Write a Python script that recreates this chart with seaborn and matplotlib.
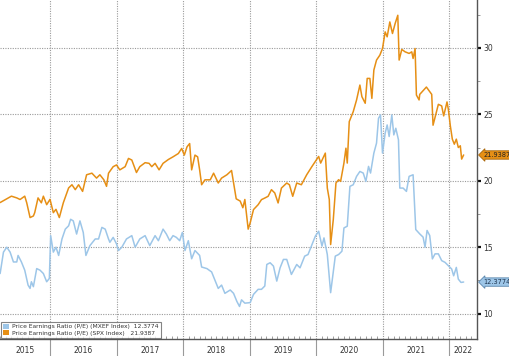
import numpy as np
import pandas as pd
import matplotlib
matplotlib.use("Agg")
import matplotlib.pyplot as plt
import matplotlib.transforms as mtransforms
from matplotlib.patches import Patch
import seaborn as sns

# ---------------- data (decimal years, P/E values) ----------------
spx_t = [2015.25, 2015.35, 2015.42, 2015.50, 2015.55, 2015.62, 2015.65, 2015.70, 2015.75, 2015.77,
         2015.82, 2015.87, 2015.90, 2015.95, 2016.00, 2016.05, 2016.09, 2016.14, 2016.20, 2016.28,
         2016.33, 2016.38, 2016.43, 2016.49, 2016.55, 2016.63, 2016.70, 2016.75, 2016.81, 2016.85,
         2016.88, 2016.95, 2017.00, 2017.05, 2017.13, 2017.18, 2017.23, 2017.30, 2017.35, 2017.43,
         2017.49, 2017.53, 2017.58, 2017.64, 2017.70, 2017.78, 2017.85, 2017.93, 2017.98, 2018.02,
         2018.06, 2018.10, 2018.13, 2018.18, 2018.22, 2018.25, 2018.28, 2018.33, 2018.41, 2018.46,
         2018.53, 2018.58, 2018.66, 2018.73, 2018.80, 2018.86, 2018.90, 2018.93, 2018.98,
         2019.01, 2019.06, 2019.13, 2019.18, 2019.23, 2019.28, 2019.33, 2019.38, 2019.43, 2019.48,
         2019.56, 2019.60, 2019.65, 2019.71, 2019.78, 2019.86, 2019.94, 2019.99, 2020.04, 2020.07,
         2020.14, 2020.17, 2020.20, 2020.22, 2020.26, 2020.30, 2020.34, 2020.37, 2020.42, 2020.45,
         2020.47, 2020.50, 2020.56, 2020.61, 2020.66, 2020.69, 2020.74, 2020.77, 2020.81, 2020.84,
         2020.87, 2020.91, 2020.96, 2021.00, 2021.04, 2021.07, 2021.11, 2021.15, 2021.19, 2021.23,
         2021.25, 2021.29, 2021.34, 2021.40, 2021.44, 2021.46, 2021.49, 2021.51, 2021.55,
         2021.56, 2021.66, 2021.74, 2021.76, 2021.84, 2021.89, 2021.92, 2021.97, 2021.99, 2022.02,
         2022.05, 2022.08, 2022.11, 2022.14, 2022.17, 2022.19, 2022.22]
spx_pe = [18.36, 18.64, 18.84, 18.71, 18.59, 18.84, 18.34, 17.23, 17.35, 17.60,
          18.71, 18.34, 18.84, 18.20, 18.60, 17.60, 17.85, 17.23, 18.34, 19.46,
          19.70, 19.33, 19.70, 19.20, 20.45, 20.57, 20.20, 20.45, 20.07, 19.58,
          20.57, 21.06, 21.19, 20.82, 21.06, 21.68, 21.56, 20.62, 21.06, 21.36,
          21.31, 21.06, 21.31, 20.82, 21.31, 21.60, 21.80, 22.05, 22.43, 21.93,
          22.55, 22.80, 20.82, 21.93, 21.80, 20.82, 19.70, 20.07, 20.07, 20.57,
          19.83, 20.20, 20.45, 20.77, 18.64, 18.47, 17.97, 18.59, 16.36,
          16.83, 17.83, 18.20, 18.58, 18.70, 18.83, 19.33, 19.08, 18.33, 19.45,
          19.83, 19.70, 18.83, 19.83, 19.70, 20.45, 21.08, 21.45, 21.83, 21.33,
          22.08, 19.45, 18.58, 15.20, 17.08, 19.83, 20.08, 19.95, 21.33, 22.45,
          21.33, 24.45, 25.20, 26.08, 27.20, 26.33, 25.83, 27.70, 27.70, 26.20,
          28.33, 29.08, 29.45, 29.95, 31.20, 30.83, 31.95, 31.08, 31.83, 32.45,
          29.08, 29.88, 29.70, 29.58, 29.70, 29.20, 29.95, 26.45, 26.08,
          26.50, 27.05, 26.50, 24.18, 25.75, 25.63, 24.88, 25.93, 25.38, 24.13,
          23.13, 22.75, 23.13, 22.50, 22.63, 21.63, 21.94]

mxef_t = [2015.25, 2015.30, 2015.35, 2015.40, 2015.45, 2015.50, 2015.52, 2015.57, 2015.62, 2015.67,
          2015.70, 2015.72, 2015.75, 2015.80, 2015.85, 2015.90, 2015.95, 2015.99, 2016.01, 2016.05,
          2016.09, 2016.13, 2016.18, 2016.23, 2016.28, 2016.31, 2016.35, 2016.40, 2016.45, 2016.50,
          2016.54, 2016.60, 2016.68, 2016.73, 2016.78, 2016.83, 2016.88, 2016.90, 2016.95, 2017.00,
          2017.03, 2017.08, 2017.15, 2017.23, 2017.28, 2017.35, 2017.43, 2017.50, 2017.58, 2017.63,
          2017.70, 2017.75, 2017.80, 2017.85, 2017.90, 2017.95, 2017.99, 2018.03, 2018.08, 2018.13,
          2018.18, 2018.25, 2018.28, 2018.36, 2018.43, 2018.48, 2018.53, 2018.58, 2018.63, 2018.71,
          2018.76, 2018.81, 2018.85, 2018.88, 2018.93,
          2019.01, 2019.06, 2019.13, 2019.18, 2019.23, 2019.26, 2019.31, 2019.36, 2019.41, 2019.46,
          2019.51, 2019.56, 2019.63, 2019.71, 2019.76, 2019.83, 2019.88, 2019.94, 2019.99, 2020.04,
          2020.09, 2020.12, 2020.17, 2020.22, 2020.29, 2020.34, 2020.39, 2020.42, 2020.47, 2020.51,
          2020.56, 2020.61, 2020.66, 2020.71, 2020.75, 2020.79, 2020.82, 2020.87, 2020.91, 2020.94,
          2020.97, 2021.00, 2021.04, 2021.07, 2021.10, 2021.14, 2021.17, 2021.20, 2021.24, 2021.26,
          2021.31, 2021.36, 2021.40, 2021.46, 2021.50,
          2021.56, 2021.61, 2021.64, 2021.67, 2021.71, 2021.75, 2021.79, 2021.84, 2021.89, 2021.94,
          2021.99, 2022.04, 2022.07, 2022.11, 2022.14, 2022.18, 2022.22]
mxef_pe = [13.02, 14.63, 15.00, 14.63, 13.89, 13.89, 14.38, 13.89, 13.27, 12.15,
           11.90, 12.40, 12.03, 13.39, 13.27, 13.02, 12.40, 12.65, 15.87, 14.63,
           15.00, 14.38, 15.62, 16.36, 16.61, 17.10, 16.98, 15.99, 16.98, 16.11,
           14.38, 15.12, 15.62, 15.62, 16.49, 16.36, 15.62, 15.37, 15.74, 15.25,
           14.75, 15.00, 15.62, 15.87, 15.00, 15.62, 15.87, 15.12, 15.87, 15.49,
           16.36, 15.99, 15.49, 15.87, 15.74, 15.49, 16.11, 14.75, 15.49, 14.13,
           14.75, 14.38, 13.51, 13.39, 13.14, 12.52, 11.90, 12.15, 11.53, 11.78,
           11.53, 10.92, 10.54, 11.04, 10.79,
           10.83, 11.45, 11.83, 11.83, 12.08, 13.70, 13.83, 13.58, 12.45, 13.45,
           14.08, 14.08, 12.95, 13.70, 13.45, 14.33, 14.45, 15.20, 15.83, 16.20,
           15.08, 15.70, 14.45, 11.58, 14.33, 14.45, 14.70, 16.45, 16.58, 19.58,
           19.70, 20.33, 20.70, 20.58, 19.95, 21.08, 20.58, 22.08, 22.83, 24.70,
           24.95, 22.08, 23.58, 24.20, 23.33, 24.95, 23.45, 23.95, 23.08, 19.45,
           19.45, 19.20, 20.33, 20.45, 16.33,
           16.00, 15.76, 15.00, 16.26, 15.88, 14.12, 14.50, 14.50, 13.99, 13.86,
           13.61, 13.36, 12.85, 13.48, 12.60, 12.35, 12.38]

series_names = ["Price Earnings Ratio (P/E) (MXEF Index)", "Price Earnings Ratio (P/E) (SPX Index)"]
last_values = ["12.3774", "21.9387"]
year_labels = ["2015", "2016", "2017", "2018", "2019", "2020", "2021", "2022"]
y_ticks = [10, 15, 20, 25, 30]

# ---------------- styling ----------------
BLUE = "#9dc6e8"
ORANGE = "#e68f15"

sns.set_theme(style="white")
plt.rcParams["font.family"] = ["DejaVu Sans"]

df = pd.concat([
    pd.DataFrame({"t": mxef_t, "pe": mxef_pe, "series": series_names[0]}),
    pd.DataFrame({"t": spx_t, "pe": spx_pe, "series": series_names[1]}),
])

fig = plt.figure(figsize=(5.09, 3.56), dpi=100)
ax = fig.add_axes([0.0, 0.048, 0.937, 0.952])

sns.lineplot(data=df, x="t", y="pe", hue="series", palette=[BLUE, ORANGE],
             linewidth=1.1, ax=ax, legend=False, sort=False)

x0, x1 = 2015.248, 2022.42
ax.set_xlim(x0, x1)
ax.set_ylim(8.1, 33.6)
ax.set_xlabel("")
ax.set_ylabel("")

# spines
for s in ["left", "top"]:
    ax.spines[s].set_visible(False)
ax.spines["right"].set_color("#555555")
ax.spines["right"].set_linewidth(1.0)
ax.spines["bottom"].set_color("#555555")
ax.spines["bottom"].set_linewidth(1.0)

# y axis on right
ax.yaxis.tick_right()
ax.set_yticks(y_ticks)
ax.set_yticks([12.5, 17.5, 22.5, 27.5, 32.5], minor=True)
ax.tick_params(axis="y", which="major", direction="out", length=3, width=1.6,
               color="#111111", labelsize=5.5, labelcolor="#333333", pad=1.5)
ax.tick_params(axis="y", which="minor", direction="out", length=2, width=0.6,
               color="#888888", right=True)

# x axis: year boundaries + months
years = list(range(2016, 2023))
ax.set_xticks(years)
ax.set_xticklabels([])
months = [y + m / 12 for y in range(2015, 2023) for m in range(12)]
ax.set_xticks([m for m in months if x0 < m < x1 and abs(m - round(m)) > 1e-6], minor=True)
ax.tick_params(axis="x", which="major", direction="out", length=12.5, width=0.8,
               color="#9a9a9a", bottom=True)
ax.tick_params(axis="x", which="minor", direction="in", length=2, width=0.5,
               color="#777777", bottom=True)

# grid
ax.grid(True, which="major", axis="both", color="#9a9a9a", linestyle=(0, (1, 1.2)),
        linewidth=0.8)

# year labels centered in visible span
trans = mtransforms.blended_transform_factory(ax.transData, ax.transAxes)
for lab in year_labels:
    y = int(lab)
    a, b = max(y, x0), min(y + 1, x1)
    ax.text((a + b) / 2, -0.035, lab, transform=trans, ha="center", va="center",
            fontsize=5.5, color="#333333")

# right-side value tags
ytrans = mtransforms.blended_transform_factory(ax.transAxes, ax.transData)
ax.text(1.013, float(last_values[1]), last_values[1], transform=ytrans, ha="left", va="center",
        fontsize=4.8, color="#222222", clip_on=False,
        bbox=dict(boxstyle="larrow,pad=0.18", fc=ORANGE, ec="#a86406", lw=0.6))
ax.text(1.013, float(last_values[0]), last_values[0], transform=ytrans, ha="left", va="center",
        fontsize=4.8, color="#1f3550", clip_on=False,
        bbox=dict(boxstyle="larrow,pad=0.18", fc=BLUE, ec="#5a86ad", lw=0.6))

# legend
handles = [Patch(facecolor=BLUE, edgecolor="none"), Patch(facecolor=ORANGE, edgecolor="none")]
labels = [f"{series_names[0]}  {last_values[0]}", f"{series_names[1]}   {last_values[1]}"]
leg = ax.legend(handles, labels, loc="lower left", bbox_to_anchor=(0.0, 0.0),
                fontsize=4.3, frameon=True, fancybox=False, shadow=False,
                handlelength=0.9, handleheight=0.9, handletextpad=0.6,
                borderpad=0.35, labelspacing=0.15, borderaxespad=0.2)
leg.get_frame().set_edgecolor("#666666")
leg.get_frame().set_linewidth(0.8)
for t in leg.get_texts():
    t.set_color("#333333")

fig.savefig("out.png", dpi=100, facecolor="white")
